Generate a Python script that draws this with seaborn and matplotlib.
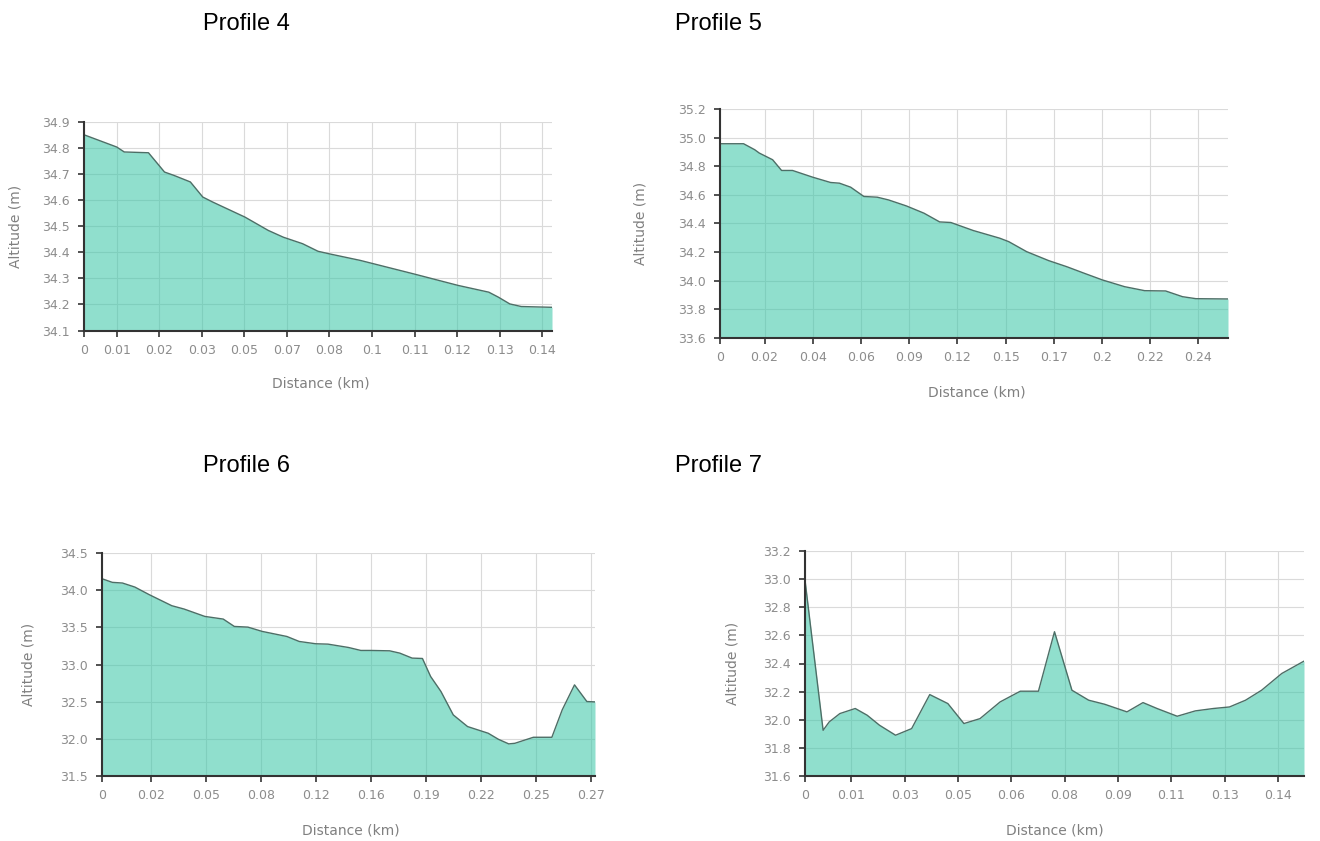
import numpy as np
import pandas as pd
import matplotlib
matplotlib.use("Agg")
import matplotlib.pyplot as plt
import seaborn as sns

# ---------------- data ----------------
titles = ["Profile 4", "Profile 5", "Profile 6", "Profile 7"]

p4_dist = [0, 0.010, 0.0123, 0.0197, 0.0246, 0.0275, 0.0325, 0.0363, 0.0393, 0.0492,
           0.0563, 0.0609, 0.0668, 0.0715, 0.0750, 0.0844, 0.0885, 0.1008, 0.1143,
           0.1237, 0.1266, 0.1301, 0.1336, 0.143]
p4_alt = [34.851, 34.804, 34.785, 34.782, 34.708, 34.695, 34.670, 34.612, 34.593, 34.535,
          34.484, 34.458, 34.433, 34.404, 34.394, 34.369, 34.356, 34.317, 34.273,
          34.247, 34.228, 34.202, 34.192, 34.189]
p4_xlabels = ["0", "0.01", "0.02", "0.03", "0.05", "0.07", "0.08", "0.1", "0.11", "0.12", "0.13", "0.14"]
p4_yticks = [34.1, 34.2, 34.3, 34.4, 34.5, 34.6, 34.7, 34.8, 34.9]

p5_dist = [0, 0.0116, 0.0171, 0.0193, 0.0259, 0.0303, 0.0357, 0.0456, 0.0544, 0.0588,
           0.0643, 0.0708, 0.0774, 0.0829, 0.0917, 0.1004, 0.1081, 0.1136, 0.1246,
           0.1377, 0.1421, 0.1509, 0.1618, 0.1706, 0.1794, 0.1882, 0.1991, 0.2090,
           0.2193, 0.2276, 0.2342, 0.25]
p5_alt = [34.957, 34.957, 34.915, 34.892, 34.845, 34.770, 34.770, 34.723, 34.686, 34.681,
          34.653, 34.588, 34.583, 34.564, 34.522, 34.471, 34.410, 34.406, 34.350,
          34.296, 34.272, 34.202, 34.139, 34.097, 34.050, 34.004, 33.957, 33.929,
          33.927, 33.887, 33.873, 33.871]
p5_xlabels = ["0", "0.02", "0.04", "0.06", "0.09", "0.12", "0.15", "0.17", "0.2", "0.22", "0.24"]
p5_yticks = [33.6, 33.8, 34.0, 34.2, 34.4, 34.6, 34.8, 35.0, 35.2]

p6_dist = [0, 0.0057, 0.0113, 0.0181, 0.0261, 0.0385, 0.0453, 0.0567, 0.0669, 0.0730,
           0.0805, 0.0884, 0.1020, 0.1088, 0.1179, 0.1247, 0.1360, 0.1428, 0.1485,
           0.1587, 0.1643, 0.1711, 0.1768, 0.1813, 0.1870, 0.1938, 0.2017, 0.2131,
           0.2187, 0.2244, 0.2278, 0.2380, 0.2482, 0.2539, 0.2607, 0.2675, 0.272]
p6_alt = [34.154, 34.105, 34.096, 34.042, 33.939, 33.791, 33.746, 33.647, 33.611, 33.512,
          33.503, 33.445, 33.377, 33.310, 33.279, 33.274, 33.229, 33.189, 33.189,
          33.184, 33.153, 33.086, 33.081, 32.839, 32.637, 32.322, 32.165, 32.075,
          31.994, 31.932, 31.940, 32.021, 32.021, 32.389, 32.726, 32.502, 32.497]
p6_xlabels = ["0", "0.02", "0.05", "0.08", "0.12", "0.16", "0.19", "0.22", "0.25", "0.27"]
p6_yticks = [31.5, 32.0, 32.5, 33.0, 33.5, 34.0, 34.5]

p7_dist = [0, 0.0053, 0.0071, 0.0102, 0.0147, 0.0182, 0.0218, 0.0265, 0.0312, 0.0365,
           0.0418, 0.0465, 0.0512, 0.0571, 0.0630, 0.0683, 0.0730, 0.0781, 0.0830,
           0.0877, 0.0942, 0.0989, 0.1030, 0.1089, 0.1142, 0.1195, 0.1242, 0.1289,
           0.1336, 0.1395, 0.146]
p7_alt = [32.993, 31.925, 31.985, 32.044, 32.080, 32.032, 31.961, 31.890, 31.937, 32.179,
          32.115, 31.973, 32.008, 32.127, 32.203, 32.203, 32.626, 32.210, 32.139,
          32.110, 32.056, 32.122, 32.080, 32.025, 32.063, 32.080, 32.091, 32.139,
          32.210, 32.329, 32.417]
p7_xlabels = ["0", "0.01", "0.03", "0.05", "0.06", "0.08", "0.09", "0.11", "0.13", "0.14"]
p7_yticks = [31.6, 31.8, 32.0, 32.2, 32.4, 32.6, 32.8, 33.0, 33.2]

# ---------------- layout (pixels in a 1320x841 canvas) ----------------
W, H = 1320, 841
layout = [
    dict(box=(84, 122, 552, 330.5), xmax=0.143, first=0.00996, step=0.01301,
         title_xy=(203, 30), ylab_x=16, xlab=(321, 383.5)),
    dict(box=(720, 109, 1228, 337.7), xmax=0.25, first=0.0219, step=0.02373,
         title_xy=(675, 30), ylab_x=640, xlab=(977, 393)),
    dict(box=(102, 553, 595, 776), xmax=0.272, first=0.0272, step=0.03032,
         title_xy=(203, 472), ylab_x=29, xlab=(351, 830)),
    dict(box=(805, 551, 1304, 776), xmax=0.146, first=0.01354, step=0.0156,
         title_xy=(675, 472), ylab_x=733, xlab=(1055, 830)),
]

series = [
    (p4_dist, p4_alt, p4_xlabels, p4_yticks),
    (p5_dist, p5_alt, p5_xlabels, p5_yticks),
    (p6_dist, p6_alt, p6_xlabels, p6_yticks),
    (p7_dist, p7_alt, p7_xlabels, p7_yticks),
]

sns.set_theme(style="whitegrid")
plt.rcParams['font.family'] = ['DejaVu Sans']

FILL = '#3cc7a8'
EDGE = '#4d6e66'
GRID = '#dadada'
AXIS = '#333333'
TICKC = '#8c8c8c'
LABELC = '#808080'

fig = plt.figure(figsize=(W / 100, H / 100), dpi=100)
fig.patch.set_facecolor('white')

for title, (dist, alt, xlabels, yticks), lay in zip(titles, series, layout):
    l, t, r, b = lay['box']
    ax = fig.add_axes([l / W, 1 - b / H, (r - l) / W, (b - t) / H])
    ax.set_facecolor('white')
    df = pd.DataFrame({'Distance (km)': dist, 'Altitude (m)': alt})

    ax.fill_between(df['Distance (km)'], df['Altitude (m)'], yticks[0],
                    color=FILL, alpha=0.57, lw=0, zorder=2)
    sns.lineplot(data=df, x='Distance (km)', y='Altitude (m)', ax=ax,
                 color=EDGE, lw=1.0, sort=False, zorder=3)

    ax.set_xlim(0, lay['xmax'])
    ax.set_ylim(yticks[0], yticks[-1])
    xt = [0] + [lay['first'] + i * lay['step'] for i in range(len(xlabels) - 1)]
    ax.set_xticks(xt)
    ax.set_xticklabels(xlabels)
    ax.set_yticks(yticks)
    ax.set_yticklabels([f"{v:.1f}" for v in yticks])

    ax.grid(True, color=GRID, lw=0.8)
    ax.set_axisbelow(True)
    for s in ['top', 'right']:
        ax.spines[s].set_visible(False)
    for s in ['left', 'bottom']:
        ax.spines[s].set_visible(True)
        ax.spines[s].set_color(AXIS)
        ax.spines[s].set_linewidth(1.5)
        ax.spines[s].set_zorder(4)

    ax.tick_params(axis='both', direction='out', length=4.5, width=1.2,
                   color=AXIS, labelcolor=TICKC, labelsize=9)
    ax.tick_params(axis='y', pad=5.5, left=True)
    ax.tick_params(axis='x', pad=5, bottom=True)

    ax.set_xlabel('Distance (km)', fontsize=10, color=LABELC)
    ax.set_ylabel('Altitude (m)', fontsize=10, color=LABELC)
    ax.xaxis.label.set_va('center')
    ax.yaxis.label.set_va('center')
    ax.xaxis.set_label_coords((lay['xlab'][0] - l) / (r - l), (b - lay['xlab'][1]) / (b - t))
    ax.yaxis.set_label_coords((lay['ylab_x'] - l) / (r - l), 0.5)

    fig.text(lay['title_xy'][0] / W, 1 - lay['title_xy'][1] / H, title,
             fontsize=17, family='Liberation Sans', color='black',
             ha='left', va='baseline')

fig.savefig('out.png', dpi=100, facecolor='white')
